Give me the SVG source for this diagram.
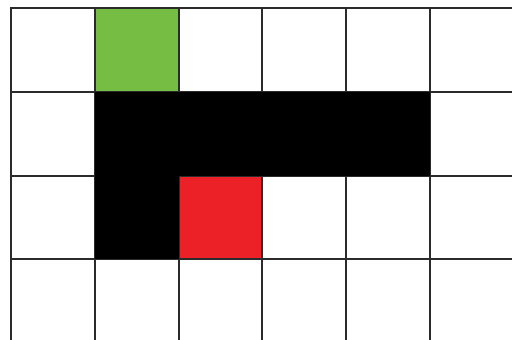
<svg xmlns="http://www.w3.org/2000/svg" width="512" height="340" viewBox="0 0 512 340">
<style>
.grid line{stroke:#2b2b2b;stroke-width:2}
</style>
<rect width="512" height="340" fill="#ffffff"/>
<g id="cells">
<rect id="green" x="95" y="8" width="84" height="84" fill="#76bd43"/>
<rect id="red" x="179" y="176" width="83" height="83" fill="#ec2027"/>
</g>
<g class="grid" id="grid">
<line x1="10" y1="8" x2="512" y2="8"/>
<line x1="10" y1="92" x2="512" y2="92"/>
<line x1="10" y1="176" x2="512" y2="176"/>
<line x1="10" y1="259" x2="512" y2="259"/>
<line x1="11" y1="7" x2="11" y2="340"/>
<line x1="95" y1="7" x2="95" y2="340"/>
<line x1="179" y1="7" x2="179" y2="340"/>
<line x1="262" y1="7" x2="262" y2="340"/>
<line x1="346" y1="7" x2="346" y2="340"/>
<line x1="430" y1="7" x2="430" y2="340"/>
</g>
<path id="wall" d="M95 92 H430 V176 H179 V259 H95 Z" fill="#000000"/>
</svg>
